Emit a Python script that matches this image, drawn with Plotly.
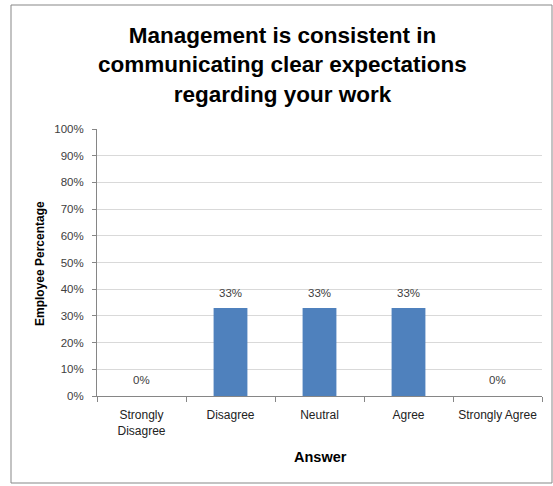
import plotly.graph_objects as go

# Survey responses
answers = ["Strongly<br>Disagree", "Disagree", "Neutral", "Agree", "Strongly Agree"]
percent = [0, 33, 33, 33, 0]
y_ticks = list(range(0, 101, 10))
y_tick_text = [f"{v}%" for v in y_ticks]

W, H = 553, 486
L, R, T, B = 97, 11, 129, 90
pw, ph = W - L - R, H - T - B

def px_x(x):
    return (x - L) / pw

def px_y(y):
    return (H - B - y) / ph

FONT = "Liberation Sans"

fig = go.Figure(
    go.Bar(
        x=answers,
        y=percent,
        width=0.38,
        marker=dict(color="#4f81bd", line=dict(width=0)),
        cliponaxis=False,
    )
)

# value labels above each bar
for a, v in zip(answers, percent):
    fig.add_annotation(
        x=a, y=v, text=f"{v}%", showarrow=False,
        yanchor="middle", yshift=15 if v else 16,
        font=dict(family=FONT, size=11.5, color="#404040"),
    )

fig.update_layout(
    width=W,
    height=H,
    margin=dict(l=L, r=R, t=T, b=B),
    paper_bgcolor="white",
    plot_bgcolor="white",
    showlegend=False,
    bargap=0.62,
    font=dict(family=FONT, color="#222"),
)

fig.update_yaxes(
    range=[0, 100],
    tickvals=y_ticks,
    ticktext=y_tick_text,
    tickfont=dict(family=FONT, size=11.5, color="#404040"),
    ticklabelstandoff=6,
    showgrid=True,
    gridcolor="#d9d9d9",
    gridwidth=1,
    showline=True,
    linecolor="#868686",
    ticks="outside",
    ticklen=4,
    tickcolor="#868686",
    zeroline=False,
    fixedrange=True,
)

fig.update_xaxes(
    tickfont=dict(family=FONT, size=12, color="#222"),
    ticklabelstandoff=8,
    showline=True,
    linecolor="#868686",
    ticks="outside",
    tickson="boundaries",
    ticklen=5,
    tickcolor="#868686",
    showgrid=False,
)

# chart frame
fig.add_shape(
    type="rect", xref="paper", yref="paper",
    x0=px_x(11), x1=px_x(552), y0=px_y(483), y1=px_y(5),
    line=dict(color="#878787", width=1), fillcolor="rgba(0,0,0,0)", layer="below",
)

# title
fig.add_annotation(
    xref="paper", yref="paper", x=px_x(282), y=px_y(65),
    text="<b>Management is consistent in<br>communicating clear expectations<br>regarding your work</b>",
    showarrow=False, align="center", xanchor="center", yanchor="middle",
    font=dict(family=FONT, size=22.5, color="#000"),
)

# axis titles
fig.add_annotation(
    xref="paper", yref="paper", x=px_x(40), y=px_y(264),
    text="<b>Employee Percentage</b>", textangle=-90, showarrow=False,
    xanchor="center", yanchor="middle",
    font=dict(family=FONT, size=12, color="#000"),
)
fig.add_annotation(
    xref="paper", yref="paper", x=px_x(320), y=px_y(457),
    text="<b>Answer</b>", showarrow=False,
    xanchor="center", yanchor="middle",
    font=dict(family=FONT, size=14.5, color="#000"),
)

fig.write_html("out.html")
